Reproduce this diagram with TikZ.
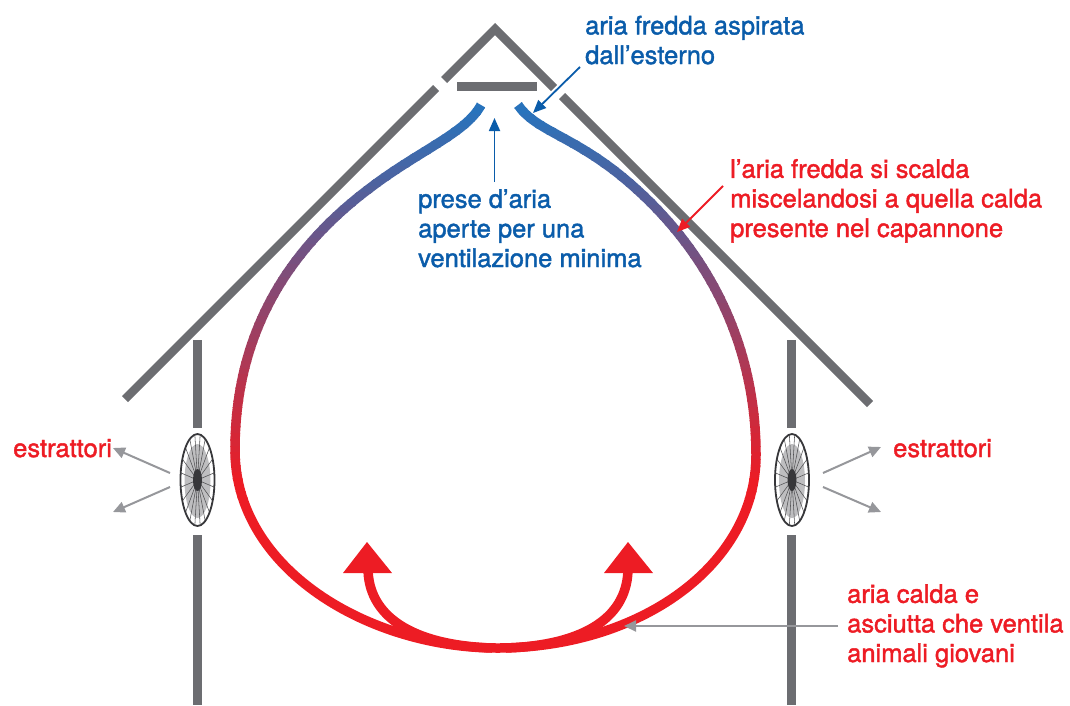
\documentclass[tikz,border=0pt]{standalone}
\usepackage{fontspec}
\setmainfont{TeX Gyre Heros}
\newfontfamily\lblfont{TeX Gyre Heros}[FakeBold=1.6]
\usetikzlibrary{arrows.meta}

\definecolor{wallgray}{RGB}{108,109,113}
\definecolor{airblue}{RGB}{40,115,188}
\definecolor{airred}{RGB}{237,28,36}
\definecolor{txtblue}{RGB}{10,92,170}
\definecolor{txtred}{RGB}{237,28,36}
\definecolor{pointgray}{RGB}{150,151,155}
\definecolor{fandark}{RGB}{55,55,58}
\definecolor{fanspoke}{RGB}{80,80,82}
\definecolor{fanlight}{RGB}{190,190,192}

\begin{document}
\begin{tikzpicture}[x=1pt,y=-1pt,
  structure/.style={draw=wallgray,line width=8.5pt},
  txtstyle/.style={font=\lblfont\fontsize{25.5}{29.6}\selectfont,align=left,anchor=base west,inner sep=0pt},
  bluetxt/.style={txtstyle,text=txtblue},
  redtxt/.style={txtstyle,text=txtred},
  graypointer/.style={draw=pointgray,line width=2pt,-{Triangle[length=12pt,width=11pt]}},
  bluepointer/.style={draw=txtblue,line width=1.8pt,-{Triangle[length=13pt,width=11pt]}},
  redpointer/.style={draw=txtred,line width=1.8pt,-{Triangle[length=13pt,width=11pt]}},
  airstroke/.style={line width=9.5pt},
  extractor/.pic={
    \fill[fanlight] (0,1) ellipse [x radius=13pt, y radius=37pt];
    \foreach \a in {0,18,...,342}
      \draw[fanspoke,line width=0.55pt] (0,0) -- ({17*cos(\a+9)},{46*sin(\a+9)});
    \fill[fandark] (0,0) ellipse [x radius=4.5pt, y radius=11pt];
    \draw[fandark,line width=1.8pt] (0,0) ellipse [x radius=17pt, y radius=46pt];
  }
]
\useasboundingbox (0,0) rectangle (1070,705);

% roof, with the two small openings near the ridge
\coordinate (ridge) at (495,29);
\coordinate (eaveL) at (125,399);
\coordinate (eaveR) at (870,404);
\coordinate (gapLtop) at (444,80);
\coordinate (gapLbot) at (436,88);
\coordinate (gapRtop) at (554,88);
\coordinate (gapRbot) at (562,96);
\draw[structure,line join=miter] (gapLtop) -- (ridge) -- (gapRtop);
\draw[structure] (gapLbot) -- (eaveL);
\draw[structure] (gapRbot) -- (eaveR);
% deflector under the ridge
\coordinate (deflL) at (457,86);
\coordinate (deflR) at (537,86);
\draw[draw=wallgray,line width=9pt] (deflL) -- (deflR);

% side walls, interrupted by the extractors
\coordinate (wLa) at (197.5,340);
\coordinate (wLb) at (197.5,428);
\coordinate (wLc) at (197.5,535);
\coordinate (wLd) at (197.5,705);
\coordinate (wRa) at (791.5,340);
\coordinate (wRb) at (791.5,428);
\coordinate (wRc) at (791.5,535);
\coordinate (wRd) at (791.5,705);
\draw[structure] (wLa) -- (wLb);
\draw[structure] (wLc) -- (wLd);
\draw[structure] (wRa) -- (wRb);
\draw[structure] (wRc) -- (wRd);

% extractor fans
\pic at (197.5,480) {extractor};
\pic at (792,480) {extractor};

% air leaving through the extractors
\coordinate (fanLout1) at (170,473);
\coordinate (fanLout2) at (170,487);
\coordinate (fanLtip1) at (113,448);
\coordinate (fanLtip2) at (113,512);
\coordinate (fanRout1) at (823,473);
\coordinate (fanRout2) at (823,487);
\coordinate (fanRtip1) at (881,447);
\coordinate (fanRtip2) at (881,512);
\draw[graypointer] (fanLout1) -- (fanLtip1);
\draw[graypointer] (fanLout2) -- (fanLtip2);
\draw[graypointer] (fanRout1) -- (fanRtip1);
\draw[graypointer] (fanRout2) -- (fanRtip2);

% air loop: cold (blue) at the inlets, warm (red) at the floor
\def\airloop{(481,105) .. controls (466,133) and (420,150) .. (370,188)
  .. controls (282,254) and (235,340) .. (235,450)
  .. controls (235,570) and (370,648) .. (497,648)
  .. controls (640,648) and (756,565) .. (756,455)
  .. controls (756,335) and (700,240) .. (620,175)
  .. controls (570,135) and (535,130) .. (518,105)}
\foreach \i in {0,...,61} {
  \pgfmathsetmacro\ya{95+\i*6.5}
  \pgfmathsetmacro\yb{\ya+7}
  \pgfmathtruncatemacro\mix{min(100,max(0,(\ya+3.25-110)/(480-110)*100))}
  \begin{scope}
    \clip (0,\ya) rectangle (1070,\yb);
    \draw[airstroke,color=airred!\mix!airblue] \airloop;
  \end{scope}
}
\begin{scope}
  \clip (0,497) rectangle (1070,705);
  \draw[airstroke,color=airred] \airloop;
\end{scope}

% warm air rising from the floor
\coordinate (floorL) at (492,648);
\coordinate (floorR) at (506,648);
\coordinate (riseL) at (368,568);
\coordinate (riseR) at (628,568);
\draw[airstroke,airred] (floorL) .. controls (410,645) and (368,615) .. (riseL);
\draw[airstroke,airred] (floorR) .. controls (588,645) and (628,615) .. (riseR);
\fill[airred] (343,573) -- (367,542) -- (392,573) -- cycle;
\fill[airred] (604,573) -- (628,542) -- (653,573) -- cycle;

% labels (anchored at the baseline of their last line)
\node[bluetxt] (coldin) at (585,64) {aria fredda aspirata\\dall’esterno};
\node[bluetxt] (inlets) at (418,267) {prese d’aria\\aperte per una\\ventilazione minima};
\node[redtxt] (mixing) at (730,237) {l’aria fredda si scalda\\miscelandosi a quella calda\\presente nel capannone};
\node[redtxt] (warmair) at (847,662) {aria calda e\\asciutta che ventila\\animali giovani};
\node[redtxt] (extL) at (13,457) {estrattori};
\node[redtxt] (extR) at (893,457) {estrattori};

% label pointers
\coordinate (coldinFrom) at (580,67);
\coordinate (coldinTo) at (533,113);
\coordinate (inletsFrom) at (494.5,182);
\coordinate (inletsTo) at (494.5,118);
\coordinate (mixingFrom) at (723,186);
\coordinate (mixingTo) at (677,232);
\coordinate (warmFrom) at (838,626);
\coordinate (warmTo) at (624,626);
\draw[bluepointer] (coldinFrom) -- (coldinTo);
\draw[bluepointer] (inletsFrom) -- (inletsTo);
\draw[redpointer] (mixingFrom) -- (mixingTo);
\draw[graypointer] (warmFrom) -- (warmTo);
\end{tikzpicture}
\end{document}
